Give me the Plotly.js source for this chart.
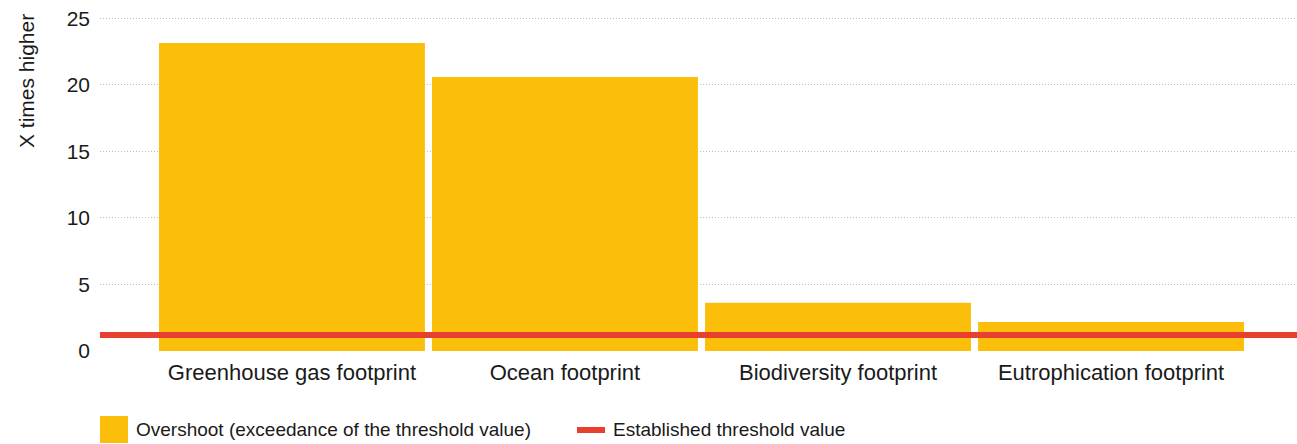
<!DOCTYPE html>
<html>
<head>
<meta charset="utf-8">
<script src="https://cdn.plot.ly/plotly-3.0.1.min.js"></script>
<style>
  html, body { margin: 0; padding: 0; background: #fff; }
  #chart { width: 1297px; height: 444px; }
</style>
</head>
<body>
<div id="chart"></div>
<script>
// ---- data ----
var categories = ["Greenhouse gas footprint", "Ocean footprint", "Biodiversity footprint", "Eutrophication footprint"];
var overshoot = [23.15, 20.6, 3.63, 2.18];
var threshold = 1.2;
var yTickVals = [0, 5, 10, 15, 20, 25];
var seriesNames = ["Overshoot (exceedance of the threshold value)", "Established threshold value"];
var yTitle = "X times higher";

// ---- style ----
var BAR = "#FBBF0B";
var RED = "#E8402F";
var TXT = "#1a1a1a";
var FONT = "Liberation Sans, Arial, Helvetica, sans-serif";

var L = 100, R = 0, T = 17, B = 93, W = 1297, H = 444;
var PW = W - L - R, PH = H - T - B;
function px(x) { return (x - L) / PW; }
function py(y) { return (H - B - y) / PH; }

var traces = [
  {
    type: "bar",
    x: categories,
    y: overshoot,
    name: seriesNames[0],
    marker: { color: BAR },
    showlegend: false,
    hoverinfo: "skip"
  },
  {
    type: "scatter",
    mode: "lines",
    x: [0, 1],
    y: [threshold, threshold],
    xaxis: "x2",
    name: seriesNames[1],
    line: { color: RED, width: 6 },
    showlegend: false,
    hoverinfo: "skip"
  }
];

var layout = {
  width: W, height: H,
  margin: { l: L, r: R, t: T, b: B, pad: 0 },
  paper_bgcolor: "#fff",
  plot_bgcolor: "#fff",
  font: { family: FONT, color: TXT, size: 21 },
  bargap: 0.026,
  showlegend: false,
  xaxis: {
    type: "category",
    range: [-0.703, 3.681],
    showgrid: false,
    zeroline: false,
    showline: false,
    ticks: "",
    tickfont: { size: 22, color: TXT, family: FONT },
    ticklabelstandoff: 6,
    fixedrange: true
  },
  xaxis2: {
    overlaying: "x",
    range: [0, 1],
    visible: false,
    fixedrange: true
  },
  yaxis: {
    range: [0, 25.1],
    tickvals: yTickVals,
    ticktext: yTickVals.map(String),
    showgrid: true,
    gridcolor: "#bdbdbd",
    griddash: "1px,2px",
    gridwidth: 1,
    zeroline: true,
    zerolinecolor: "rgba(255,255,255,0)",
    showline: false,
    ticks: "",
    tickfont: { size: 21, color: TXT, family: FONT },
    ticklabelstandoff: 9,
    fixedrange: true
  },
  shapes: [
    {
      type: "rect", xref: "paper", yref: "paper",
      x0: px(100), x1: px(128), y0: py(443), y1: py(416),
      fillcolor: BAR, line: { width: 0 }
    },
    {
      type: "line", xref: "paper", yref: "paper",
      x0: px(577), x1: px(605), y0: py(430), y1: py(430),
      line: { color: RED, width: 6 }
    }
  ],
  annotations: [
    {
      text: yTitle, xref: "paper", yref: "paper",
      x: px(27), y: py(81), xanchor: "center", yanchor: "middle",
      textangle: -90, showarrow: false,
      font: { size: 21, color: TXT, family: FONT }
    },
    {
      text: seriesNames[0], xref: "paper", yref: "paper",
      x: px(134), y: py(429), xanchor: "left", yanchor: "middle",
      showarrow: false,
      font: { size: 19, color: TXT, family: FONT }
    },
    {
      text: seriesNames[1], xref: "paper", yref: "paper",
      x: px(611), y: py(429), xanchor: "left", yanchor: "middle",
      showarrow: false,
      font: { size: 19, color: TXT, family: FONT }
    }
  ]
};

Plotly.newPlot("chart", traces, layout, { staticPlot: true, displayModeBar: false });
</script>
</body>
</html>
